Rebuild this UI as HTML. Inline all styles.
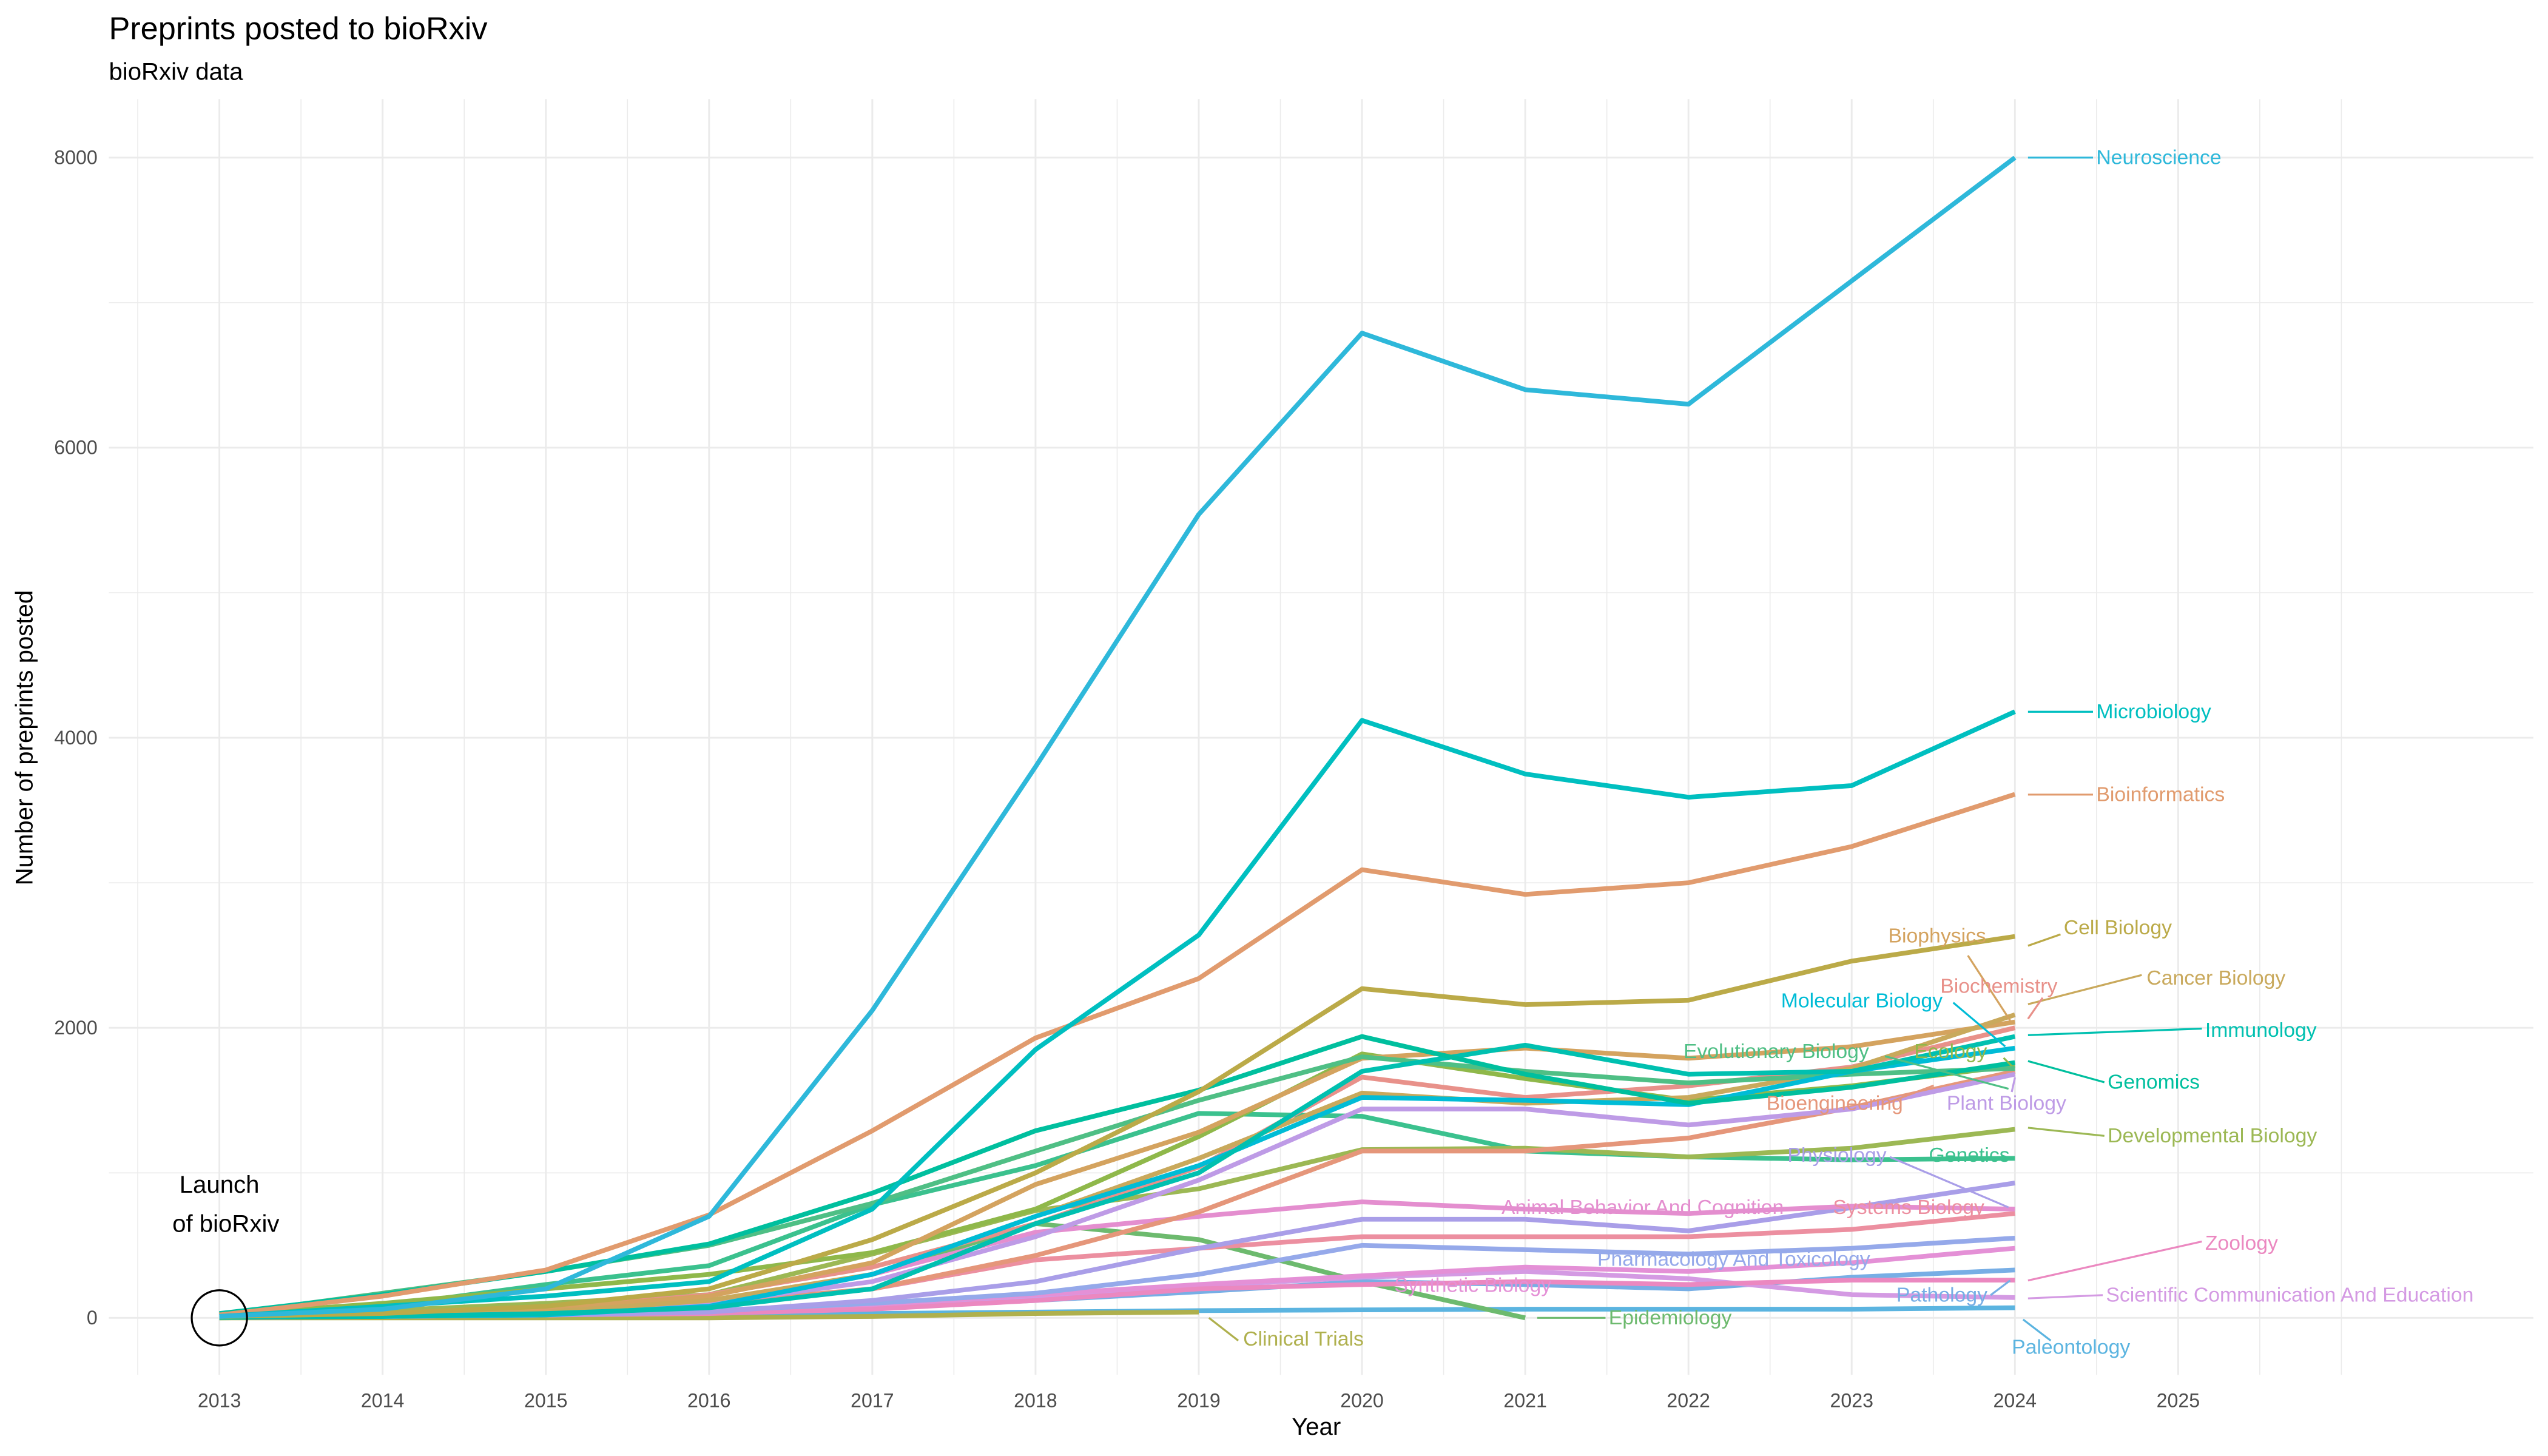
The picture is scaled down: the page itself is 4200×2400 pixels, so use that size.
<!DOCTYPE html>
<html><head><meta charset="utf-8"><style>html,body{margin:0;padding:0;background:#fff}svg{display:block}text{font-family:"Liberation Sans",sans-serif}</style></head>
<body>
<svg id="s" xmlns="http://www.w3.org/2000/svg" width="4200" height="2400" viewBox="0 0 1568 896">
<rect width="1568" height="896" fill="#fff"/>
<g id="grid"></g>
<g id="lines" fill="none" stroke-width="2.9" stroke-linejoin="round"></g>
<g id="lab" font-size="12.6"></g>
<text x="67" y="24" font-size="19.5" fill="#000">Preprints posted to bioRxiv</text>
<text x="67" y="49" font-size="15" fill="#000">bioRxiv data</text>
<text x="810" y="883" font-size="15" text-anchor="middle">Year</text>
<text transform="translate(20,454) rotate(-90)" font-size="15" text-anchor="middle">Number of preprints posted</text>
<text x="135" y="734" font-size="15" text-anchor="middle">Launch</text>
<text x="139" y="758" font-size="15" text-anchor="middle">of bioRxiv</text>
<circle cx="135" cy="811" r="17" fill="none" stroke="#000" stroke-width="1.2"/>
</svg>
<script>
const NS="http://www.w3.org/2000/svg";
const X=y=>135+100.45*(y-2013), Y=v=>811-v*0.08925;
function el(p,t,a,txt){const e=document.createElementNS(NS,t);for(const k in a)e.setAttribute(k,a[k]);if(txt!==undefined)e.textContent=txt;document.getElementById(p).appendChild(e);return e;}
for(let v=0;v<=8000;v+=1000){el('grid','line',{x1:67,x2:1559,y1:Y(v),y2:Y(v),stroke:'#ebebeb','stroke-width':v%2000?0.6:1.1});}
for(let y=2012.5;y<=2026.01;y+=0.5){const maj=Number.isInteger(y)&&y<=2025;el('grid','line',{x1:X(y),x2:X(y),y1:61,y2:846,stroke:'#ebebeb','stroke-width':maj?1.1:0.6});}
for(let v=0;v<=8000;v+=2000)el('grid','text',{x:60,y:Y(v)+4,'font-size':12,'text-anchor':'end',fill:'#4d4d4d'},String(v));
for(let y=2013;y<=2025;y++)el('grid','text',{x:X(y),y:866,'font-size':12,'text-anchor':'middle',fill:'#4d4d4d'},String(y));
const S=[
['#5BB4E0',[2,5,10,15,30,40,50,55,60,60,60,70]],
['#AFB04D',[0,0,0,0,10,30,40]],
['#6DBA6E',[0,10,30,80,300,650,540,250,0]],
['#77AEE5',[5,10,20,30,70,120,180,250,230,200,280,330]],
['#D49AE3',[5,10,20,40,80,150,220,280,320,270,160,140]],
['#E490D6',[5,10,20,40,90,160,230,290,350,320,380,480]],
['#EB88C0',[5,10,20,30,60,120,200,230,250,230,260,260]],
['#95A9EA',[5,10,30,50,100,170,300,500,470,440,480,550]],
['#EC8FA0',[5,10,30,80,200,400,480,560,560,560,610,720]],
['#A99EE8',[5,10,20,40,120,250,480,680,680,600,760,930]],
['#E48ECF',[5,10,30,80,300,590,700,800,750,720,770,750]],
['#3BC18E',[10,80,230,360,780,1050,1410,1390,1150,1110,1090,1100]],
['#9CB854',[10,50,100,160,440,740,890,1160,1170,1110,1170,1300]],
['#E5967A',[5,20,40,100,200,430,730,1150,1150,1240,1450,1700]],
['#BE9BE6',[5,20,50,100,250,560,950,1440,1440,1330,1440,1680]],
['#8FB84A',[20,100,200,300,450,750,1250,1820,1650,1500,1600,1740]],
['#E8918A',[5,20,60,160,350,650,1040,1660,1520,1600,1730,2000]],
['#D4A35F',[5,20,60,150,380,920,1280,1790,1860,1790,1870,2040]],
['#C9A95C',[5,20,40,120,300,700,1100,1550,1480,1520,1720,2090]],
['#4FBF85',[20,170,320,500,790,1150,1500,1800,1700,1620,1680,1720]],
['#00BCD6',[5,10,20,80,300,700,1050,1520,1500,1470,1700,1860]],
['#00C0B0',[5,10,30,70,200,650,1000,1700,1880,1680,1700,1940]],
['#00BF9E',[30,160,320,510,860,1290,1570,1940,1680,1480,1590,1760]],
['#BBAA48',[10,30,80,200,540,1000,1560,2270,2160,2190,2460,2630]],
['#E19B6E',[20,150,330,710,1290,1930,2340,3090,2920,3000,3250,3610]],
['#00BFC0',[10,80,150,250,750,1850,2640,4120,3750,3590,3670,4180]],
['#2EB8DA',[10,60,200,700,2120,3800,5540,6790,6400,6300,7150,8000]]];
for(const [c,d] of S){el('lines','polyline',{stroke:c,points:d.map((v,i)=>X(2013+i)+','+Y(v)).join(' ')});}
const L=[
['Neuroscience',1290,101,'#2EB8DA','start',[1248,97,1288,97]],
['Microbiology',1290,442,'#00BFC0','start',[1248,438,1288,438]],
['Bioinformatics',1290,493,'#E19B6E','start',[1248,489,1288,489]],
['Cell Biology',1270,575,'#BBAA48','start',[1248,582,1268,575]],
['Cancer Biology',1321,606,'#C9A95C','start',[1248,618,1318,600]],
['Immunology',1357,638,'#00C0B0','start',[1248,637,1355,633]],
['Genomics',1297,670,'#00BF9E','start',[1248,653,1295,666]],
['Developmental Biology',1297,703,'#9CB854','start',[1248,694,1295,699]],
['Plant Biology',1198,683,'#BE9BE6','start',[1238,672,1240,663]],
['Zoology',1357,769,'#EB88C0','start',[1248,788,1355,764]],
['Scientific Communication And Education',1296,801,'#D49AE3','start',[1248,799,1294,797]],
['Paleontology',1238,833,'#5BB4E0','start',[1245,812,1262,825]],
['Pathology',1167,801,'#77AEE5','start',[1225,797,1237,788]],
['Biophysics',1162,580,'#D4A35F','start',[1211,588,1237,628]],
['Biochemistry',1194,611,'#E8918A','start',[1248,627,1257,614]],
['Molecular Biology',1096,620,'#00BCD6','start',[1202,617,1234,644]],
['Evolutionary Biology',1036,651,'#4FBF85','start',[1160,650,1236,670]],
['Ecology',1178,651,'#8FB84A','start',[1233,651,1238,656]],
['Bioengineering',1087,683,'#E5967A','start',[1158,680,1190,668]],
['Physiology',1100,715,'#A99EE8','start',[1163,712,1236,743]],
['Genetics',1187,715,'#3BC18E','start',null],
['Animal Behavior And Cognition',924,747,'#E48ECF','start',null],
['Systems Biology',1128,747,'#EC8FA0','start',null],
['Pharmacology And Toxicology',983,779,'#95A9EA','start',null],
['Synthetic Biology',858,795,'#E490D6','start',null],
['Epidemiology',990,815,'#6DBA6E','start',[946,811,988,811]],
['Clinical Trials',765,828,'#AFB04D','start',[744,811,762,825]]];
for(const [t,x,y,c,a,ld] of L){if(ld)el('lab','line',{x1:ld[0],y1:ld[1],x2:ld[2],y2:ld[3],stroke:c,'stroke-width':1.2});el('lab','text',{x:x,y:y,fill:c,'text-anchor':a},t);}
</script>
</body></html>
